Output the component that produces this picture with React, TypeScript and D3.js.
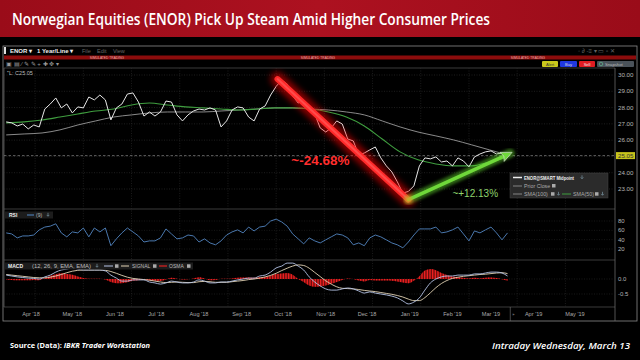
import React from 'react';
import * as d3 from 'd3';

// all series are sampled every STEP days starting at START
const START = new Date(2018, 2, 14);
const STEP = 4;
const SMA_STEP = 13;

const price = [
  27.12, 27.06, 26.87, 26.99, 26.69, 26.93, 26.81, 27.91, 28.22, 28.59,
  27.98, 28.22, 27.67, 28.04, 27.98, 28.65, 28.47, 28.77, 28.47, 27.24,
  27.98, 28.22, 28.83, 28.9, 28.34, 27.48, 27.73, 27.48, 27.73, 28.4,
  28.34, 27.55, 27.18, 27.55, 27.79, 27.91, 27.85, 27.98, 27.85, 26.81,
  27.18, 27.85, 28.04, 27.98, 27.42, 27.18, 27.91, 28.1, 28.77, 29.3,
  29.69, 29.45, 28.71, 28.28, 28.4, 28.1, 27.61, 26.75, 26.5, 26.75,
  27.18, 26.99, 26.07, 25.95, 25.09, 25.21, 25.4, 25.58, 24.91, 24.42,
  24.05, 23.44, 22.75, 22.85, 23.19, 24.42, 24.91, 24.85, 24.97, 24.66,
  24.72, 24.42, 24.91, 24.72, 24.36, 24.97, 25.15, 25.28, 25.34, 25.15,
  25.21, 25.05,
];

const sma50 = [
  27.06, 27.12, 27.24, 27.42, 27.61, 27.79, 27.91, 28.16, 28.28, 28.16,
  28.04, 27.98, 27.91, 27.85, 27.91, 27.98, 27.98, 27.91, 27.73, 27.42,
  26.87, 26.07, 25.28, 24.79, 24.54, 24.42, 24.42, 24.66, 24.97,
];

const sma100 = [
  26.32, 26.38, 26.44, 26.63, 26.93, 27.18, 27.42, 27.55, 27.67, 27.73,
  27.73, 27.73, 27.79, 27.85, 27.91, 27.98, 27.98, 27.91, 27.85, 27.73,
  27.55, 27.18, 26.81, 26.5, 26.26, 26.01, 25.71, 25.4, 25.09,
];

const rsi = [
  54.5, 52.3, 43.8, 48, 48, 50, 61, 67, 69, 74,
  54.5, 46, 56.6, 54.5, 65, 46, 65, 56.6, 65, 27,
  41.7, 54.5, 65, 56.6, 48, 35, 37.4, 37.4, 43.8, 63,
  52.3, 41.7, 43.8, 50, 48, 35, 41.7, 33, 29, 37.4,
  50, 56.6, 61, 54.5, 67, 58.7, 67, 69, 80, 84,
  78, 69, 52.3, 41.7, 31, 43.8, 37.4, 33, 39.6, 46,
  52.3, 50, 43.8, 29, 33, 27, 43.8, 50, 46, 39.6,
  33, 29, 22.5, 35, 50, 63, 63, 63, 67, 54.5,
  56.6, 61, 67, 52.3, 37.4, 58.7, 54.5, 61, 67, 54.5,
  39.6, 54.5,
];

const macd = [
  0.13, 0.1, 0.07, 0.05, 0.03, 0.02, 0.0, 0.07, 0.13, 0.23,
  0.3, 0.33, 0.37, 0.33, 0.3, 0.3, 0.3, 0.3, 0.27, 0.13,
  0.03, -0.07, -0.07, -0.03, -0.03, -0.03, -0.1, -0.13, -0.17, -0.13,
  -0.07, -0.1, -0.13, -0.13, -0.1, -0.03, -0.07, -0.13, -0.13, -0.1,
  -0.1, -0.07, -0.03, 0.0, 0.03, 0.03, 0.1, 0.13, 0.23, 0.37,
  0.43, 0.53, 0.53, 0.43, 0.3, 0.07, -0.1, -0.23, -0.33, -0.37,
  -0.37, -0.33, -0.3, -0.33, -0.4, -0.47, -0.43, -0.47, -0.5, -0.53,
  -0.57, -0.63, -0.73, -0.83, -0.77, -0.63, -0.37, -0.13, 0.0, 0.07,
  0.1, 0.1, 0.13, 0.13, 0.13, 0.17, 0.17, 0.2, 0.23, 0.23,
  0.2, 0.1,
];

const signal = [
  0.15, 0.13, 0.11, 0.09, 0.07, 0.05, 0.04, 0.04, 0.06, 0.1,
  0.15, 0.21, 0.26, 0.29, 0.3, 0.3, 0.3, 0.3, 0.29, 0.25,
  0.19, 0.12, 0.06, 0.02, 0.0, -0.02, -0.04, -0.07, -0.1, -0.12,
  -0.11, -0.1, -0.11, -0.12, -0.12, -0.09, -0.08, -0.09, -0.11, -0.11,
  -0.11, -0.09, -0.07, -0.05, -0.02, 0.0, 0.03, 0.07, 0.12, 0.19,
  0.28, 0.36, 0.43, 0.47, 0.45, 0.36, 0.22, 0.08, -0.06, -0.17,
  -0.26, -0.31, -0.32, -0.33, -0.35, -0.38, -0.4, -0.42, -0.45, -0.48,
  -0.51, -0.55, -0.6, -0.67, -0.72, -0.72, -0.62, -0.46, -0.29, -0.15,
  -0.05, 0.02, 0.06, 0.09, 0.11, 0.13, 0.15, 0.16, 0.18, 0.2,
  0.21, 0.18,
];

const osma = [
  -0.02, -0.03, -0.04, -0.04, -0.04, -0.03, -0.04, 0.03, 0.1, 0.16,
  0.19, 0.17, 0.14, 0.08, 0.03, 0.01, 0.01, 0.01, -0.02, -0.1,
  -0.14, -0.14, -0.11, -0.06, -0.04, -0.02, -0.05, -0.06, -0.07, -0.02,
  0.04, 0.01, -0.02, -0.01, 0.02, 0.06, 0.02, -0.04, -0.03, 0.01,
  0.01, 0.02, 0.04, 0.05, 0.05, 0.04, 0.06, 0.07, 0.11, 0.17,
  0.18, 0.2, 0.14, 0.0, -0.1, -0.22, -0.26, -0.25, -0.22, -0.16,
  -0.1, -0.03, 0.02, 0.0, -0.05, -0.08, -0.03, -0.05, -0.05, -0.05,
  -0.06, -0.08, -0.12, -0.14, -0.06, 0.09, 0.28, 0.33, 0.29, 0.2,
  0.13, 0.08, 0.07, 0.04, 0.02, 0.04, 0.02, 0.04, 0.05, 0.03,
  -0.01, -0.06,
];

const priceGrid = [30, 29, 28, 27, 26, 25, 24, 23];
const priceTicks = [30, 29, 28, 27, 26, 24, 23];
const rsiTicks = [80, 60, 40, 20];
const macdTicks = [0, -0.5];
const lastPrice = 25.05;

// annotation arrows (date, price)
const dropFrom: [Date, number] = [new Date(2018, 8, 27), 29.75];
const dropTo: [Date, number] = [new Date(2018, 11, 31), 22.35];
const riseTo: [Date, number] = [new Date(2019, 2, 15), 25.2];
const dropLabel = { text: '~-24.68%', date: new Date(2018, 9, 7), value: 24.45 };
const riseLabel = { text: '~+12.13%', date: new Date(2019, 1, 1), value: 22.5 };

const FONT = 'Liberation Sans, Arial, sans-serif';

const L = 4;
const R = 615;
const MAIN = { top: 68, bottom: 209 };
const RSIP = { top: 210, bottom: 260 };
const MACDP = { top: 261, bottom: 307 };

const at = (i: number, step: number) => d3.timeDay.offset(START, i * step);

// small "move down" icon used in the TWS legends
const DownIcon = ({ x, y }: { x: number; y: number }) => (
  <path d={`M${x},${y - 2.2} v3 M${x - 1.3},${y - 0.1} L${x},${y + 1.3} L${x + 1.3},${y - 0.1}`}
    fill="none" stroke="#8ab" strokeWidth={0.6} />
);

const App: React.FC = () => {
  const x = d3.scaleTime()
    .domain([new Date(2018, 3, 1), new Date(2019, 4, 1)])
    .range([31, 575]);
  const yP = d3.scaleLinear().domain([23, 30]).range([189, 75]);
  const yR = d3.scaleLinear().domain([20, 80]).range([249, 221]);
  const yM = d3.scaleLinear().domain([-0.5, 0]).range([294, 279]);

  const line = (ys: d3.ScaleLinear<number, number>, step: number, curve = d3.curveLinear) =>
    d3.line<number>()
      .x((_, i) => x(at(i, step)))
      .y(d => ys(d))
      .curve(curve);

  const osmaArea = d3.area<number>()
    .x((_, i) => x(at(i, STEP)))
    .y0(yM(0))
    .y1(d => yM(d))
    .curve(d3.curveMonotoneX);

  const months = d3.timeMonth.range(new Date(2018, 3, 1), new Date(2019, 5, 1));
  const fmt = d3.timeFormat("%b '%y");
  const gridDates = d3.range(-9, 6)
    .map(k => d3.timeDay.offset(new Date(2019, 0, 9), k * 35))
    .filter(d => x(d) > L + 2 && x(d) < R - 2);

  const p0 = [x(dropFrom[0]), yP(dropFrom[1])];
  const p1 = [x(dropTo[0]), yP(dropTo[1])];
  const p2 = [x(riseTo[0]), yP(riseTo[1])];
  const ang = Math.atan2(p2[1] - p1[1], p2[0] - p1[0]) * 180 / Math.PI;

  return (
    <svg width={640} height={360} style={{ position: 'absolute', left: 0, top: 0, display: 'block', background: '#000' }}>
      <defs>
        <linearGradient id="banner" x1="0" x2="1" y1="0" y2="0">
          <stop offset="0" stopColor="#9a0c19" />
          <stop offset="0.5" stopColor="#ad1120" />
          <stop offset="1" stopColor="#9a0c19" />
        </linearGradient>
        <filter id="blur"><feGaussianBlur stdDeviation="3" /></filter>
        <filter id="blurS"><feGaussianBlur stdDeviation="1.5" /></filter>
        <pattern id="hatch" patternUnits="userSpaceOnUse" width="1.6" height="2">
          <rect x="0" y="0" width="0.9" height="2" fill="#ff2323" />
        </pattern>
        <clipPath id="cMain"><rect x={L} y={MAIN.top} width={R - L} height={MAIN.bottom - MAIN.top} /></clipPath>
        <clipPath id="cRsi"><rect x={L} y={RSIP.top} width={R - L} height={RSIP.bottom - RSIP.top} /></clipPath>
        <clipPath id="cMacd"><rect x={L} y={MACDP.top} width={R - L} height={MACDP.bottom - MACDP.top} /></clipPath>
      </defs>

      <rect x={0} y={0} width={640} height={360} fill="#000" />

      {/* title banner */}
      <rect x={0} y={0} width={640} height={37} fill="url(#banner)" />
      <text x={12} y={25} fill="#fff" fontFamily="Open Sans, sans-serif" fontWeight={600} fontSize={16}
        textLength={478} lengthAdjust="spacingAndGlyphs">
        Norwegian Equities (ENOR) Pick Up Steam Amid Higher Consumer Prices
      </text>

      {/* window frame */}
      <rect x={3} y={46} width={634} height={275} fill="#000" stroke="#8a8a8a" strokeWidth={0.8} />
      <rect x={4} y={47} width={2} height={7} fill="#ddd" />
      <text x={10} y={53} fill="#eee" fontFamily={FONT} fontWeight="bold" fontSize={6}>ENOR ▾</text>
      <text x={37} y={53} fill="#eee" fontFamily={FONT} fontWeight="bold" fontSize={6}>1 Year/Line ▾</text>
      <text x={82} y={53} fill="#666" fontFamily={FONT} fontSize={5.5}>File</text>
      <text x={97} y={53} fill="#666" fontFamily={FONT} fontSize={5.5}>Edit</text>
      <text x={113} y={53} fill="#666" fontFamily={FONT} fontSize={5.5}>View</text>
      <text x={578} y={53} fill="#666" fontFamily={FONT} fontSize={6}>◦  ∂  -≡ ▾  ▭ ▫ ✕</text>

      <rect x={4} y={55.5} width={632} height={4} fill="#8c0c0c" />
      {[107, 318, 528].map(cx => (
        <text key={cx} x={cx} y={58.7} textAnchor="middle" fill="#e9b0b0" fontFamily={FONT} fontSize={3.3}>SIMULATED TRADING</text>
      ))}

      <text x={6} y={66} fill="#999" fontFamily={FONT} fontSize={6}>▣ ▤ ⁄ ✎ ✎ + ✚ ✥ ▾</text>
      <rect x={542} y={61} width={16} height={6} rx={1} fill="#c9c81c" />
      <text x={550} y={65.5} textAnchor="middle" fill="#333" fontFamily={FONT} fontSize={4}>Alert</text>
      <rect x={560} y={61} width={17} height={6} rx={1} fill="#1f38e0" />
      <text x={568.5} y={65.5} textAnchor="middle" fill="#ddd" fontFamily={FONT} fontSize={4}>Buy</text>
      <rect x={579} y={61} width={16} height={6} rx={1} fill="#e01c22" />
      <text x={587} y={65.5} textAnchor="middle" fill="#eee" fontFamily={FONT} fontSize={4}>Sell</text>
      <rect x={597} y={61} width={37} height={6} rx={1} fill="#4a525a" />
      <circle cx={601} cy={64} r={1.8} fill="none" stroke="#6c9" strokeWidth={0.6} />
      <text x={605} y={65.5} fill="#bbb" fontFamily={FONT} fontSize={4.2}>Snapshot</text>

      {/* panels */}
      {[MAIN.top, MAIN.bottom, RSIP.bottom, MACDP.bottom].map(y => (
        <line key={y} x1={L} x2={R} y1={y} y2={y} stroke="#555" strokeWidth={0.7} />
      ))}
      <line x1={L} x2={L} y1={MAIN.top} y2={MACDP.bottom} stroke="#666" strokeWidth={0.7} />
      <line x1={R} x2={R} y1={MAIN.top} y2={321} stroke="#777" strokeWidth={0.7} />

      {/* grids */}
      {gridDates.map((d, i) => (
        <line key={i} x1={x(d)} x2={x(d)} y1={MAIN.top} y2={MACDP.bottom} stroke="#2e2e2e" strokeWidth={0.6} strokeDasharray="1,1.5" />
      ))}
      {priceGrid.map(v => (
        <line key={v} x1={L} x2={R} y1={yP(v)} y2={yP(v)} stroke="#333" strokeWidth={0.6} strokeDasharray="1,1.5" />
      ))}
      {rsiTicks.map(v => (
        <line key={v} x1={L} x2={R} y1={yR(v)} y2={yR(v)} stroke="#262626" strokeWidth={0.6} strokeDasharray="1,1.5" />
      ))}
      {macdTicks.map(v => (
        <line key={v} x1={L} x2={R} y1={yM(v)} y2={yM(v)} stroke="#2a2a2a" strokeWidth={0.6} strokeDasharray="1,1.5" />
      ))}

      <text x={7} y={74.5} fill="#bbb" fontFamily={FONT} fontSize={5.5}>⁺L: C25.05</text>

      {/* price panel */}
      <g clipPath="url(#cMain)">
        <line x1={L} x2={R} y1={yP(lastPrice)} y2={yP(lastPrice)} stroke="#888" strokeWidth={0.7} strokeDasharray="2.5,2" />
        <path d={line(yP, SMA_STEP, d3.curveMonotoneX)(sma100) ?? ''} fill="none" stroke="#9a9a9a" strokeWidth={0.9} />
        <path d={line(yP, SMA_STEP, d3.curveMonotoneX)(sma50) ?? ''} fill="none" stroke="#3f9e3f" strokeWidth={1.1} />
        <path d={line(yP, STEP)(price) ?? ''} fill="none" stroke="#e6e6e6" strokeWidth={1} strokeLinejoin="round" />

        {/* drop arrow */}
        <line x1={p0[0]} y1={p0[1]} x2={p1[0]} y2={p1[1]} stroke="#ff0000" strokeWidth={14} strokeLinecap="round" opacity={0.55} filter="url(#blur)" />
        <line x1={p0[0]} y1={p0[1]} x2={p1[0]} y2={p1[1]} stroke="#ff2a2a" strokeWidth={6} strokeLinecap="round" />
        <line x1={p0[0]} y1={p0[1]} x2={p1[0]} y2={p1[1]} stroke="#ff5a5a" strokeWidth={2} strokeLinecap="round" opacity={0.7} />

        {/* rise arrow */}
        <line x1={p1[0]} y1={p1[1]} x2={p2[0]} y2={p2[1]} stroke="#5fd02a" strokeWidth={9} strokeLinecap="round" opacity={0.5} filter="url(#blurS)" />
        <line x1={p1[0]} y1={p1[1]} x2={p2[0] - 4} y2={p2[1] + 2} stroke="#6fd83a" strokeWidth={3.5} strokeLinecap="round" />
        <g transform={`translate(${p2[0]},${p2[1]}) rotate(${ang})`}>
          <polygon points="2,0 -9,-5 -7,0 -9,5" fill="#6fd83a" stroke="#d8d8d8" strokeWidth={0.6} />
        </g>
        <circle cx={p1[0]} cy={p1[1]} r={4} fill="#ff9020" opacity={0.6} filter="url(#blurS)" />
      </g>

      <text x={x(dropLabel.date)} y={yP(dropLabel.value)} fill="#ff2e2e" fontFamily={FONT} fontWeight="bold" fontSize={13.5}>{dropLabel.text}</text>
      <text x={x(riseLabel.date)} y={yP(riseLabel.value)} fill="#8fd46e" fontFamily={FONT} fontSize={10}>{riseLabel.text}</text>

      {/* legend */}
      <rect x={510} y={173} width={98} height={25} fill="#2b2b2b" stroke="#444" strokeWidth={0.5} />
      <line x1={513} x2={522} y1={177.5} y2={177.5} stroke="#eee" strokeWidth={1.5} />
      <text x={524} y={179.5} fill="#eee" fontFamily={FONT} fontWeight="bold" fontSize={5.3} textLength={50} lengthAdjust="spacingAndGlyphs">ENOR@SMART Midpoint</text>
      <DownIcon x={582} y={177.5} />
      <line x1={513} x2={522} y1={186} y2={186} stroke="#aaa" strokeWidth={0.7} />
      <text x={524} y={188} fill="#aaa" fontFamily={FONT} fontSize={5.3}>Prior Close</text>
      <rect x={552} y={184} width={3.5} height={3.5} fill="#aaa" />
      <line x1={513} x2={522} y1={194} y2={194} stroke="#aaa" strokeWidth={0.7} />
      <text x={524} y={196} fill="#aaa" fontFamily={FONT} fontSize={5.3}>SMA(100)</text>
      <rect x={551} y={192.2} width={3.5} height={3.5} fill="#aaa" />
      <DownIcon x={558.5} y={194} />
      <line x1={562} x2={571} y1={194} y2={194} stroke="#3f9e3f" strokeWidth={1} />
      <text x={573} y={196} fill="#aaa" fontFamily={FONT} fontSize={5.3}>SMA(50)</text>
      <rect x={595} y={192.2} width={3.5} height={3.5} fill="#aaa" />
      <DownIcon x={602.5} y={194} />

      {/* price axis */}
      {priceTicks.map(v => (
        <text key={v} x={618} y={yP(v) + 2} fill="#b5b5b5" fontFamily={FONT} fontSize={6.2}>{v.toFixed(2)}</text>
      ))}
      <rect x={616} y={yP(lastPrice) - 3.5} width={19} height={7} fill="#c8c41c" />
      <text x={618} y={yP(lastPrice) + 2} fill="#333" fontFamily={FONT} fontSize={6.2}>{lastPrice.toFixed(2)}</text>

      {/* RSI panel */}
      <g clipPath="url(#cRsi)">
        <path d={line(yR, STEP)(rsi) ?? ''} fill="none" stroke="#4a78ae" strokeWidth={1} strokeLinejoin="round" />
      </g>
      <rect x={5} y={211.5} width={48} height={7} fill="#1c1c1c" />
      <text x={9} y={217} fill="#eee" fontFamily={FONT} fontWeight="bold" fontSize={5}>RSI</text>
      <line x1={27} x2={34} y1={215} y2={215} stroke="#4a78ae" strokeWidth={1.2} />
      <text x={36} y={217} fill="#bbb" fontFamily={FONT} fontSize={5}>(9)</text>
      <DownIcon x={48} y={215} />
      {rsiTicks.map(v => (
        <text key={v} x={618} y={yR(v) + 2} fill="#b5b5b5" fontFamily={FONT} fontSize={6}>{v}</text>
      ))}

      {/* MACD panel */}
      <g clipPath="url(#cMacd)">
        <path d={osmaArea(osma) ?? ''} fill="#6a0808" opacity={0.6} />
        <path d={osmaArea(osma) ?? ''} fill="url(#hatch)" />
        <path d={line(yM, STEP, d3.curveMonotoneX)(signal) ?? ''} fill="none" stroke="#e2d2b4" strokeWidth={0.9} />
        <path d={line(yM, STEP, d3.curveMonotoneX)(macd) ?? ''} fill="none" stroke="#b6c4e6" strokeWidth={0.9} />
      </g>
      <rect x={5} y={262.5} width={188} height={7} fill="#1c1c1c" />
      <text x={8} y={268} fill="#eee" fontFamily={FONT} fontWeight="bold" fontSize={5}>MACD</text>
      <text x={32} y={268} fill="#bbb" fontFamily={FONT} fontSize={5} textLength={59} lengthAdjust="spacingAndGlyphs">(12, 26, 9, EMA, EMA)</text>
      <DownIcon x={97} y={266} />
      <line x1={104} x2={113} y1={266} y2={266} stroke="#b6c4e6" strokeWidth={1} />
      <rect x={115} y={264.3} width={3.5} height={3.5} fill="#aaa" />
      <line x1={121} x2={129} y1={266} y2={266} stroke="#e2d2b4" strokeWidth={1} />
      <text x={132} y={268} fill="#bbb" fontFamily={FONT} fontSize={5}>SIGNAL</text>
      <rect x={153} y={264.3} width={3.5} height={3.5} fill="#aaa" />
      <line x1={159} x2={167} y1={266} y2={266} stroke="#e02020" strokeWidth={1.2} />
      <text x={169} y={268} fill="#bbb" fontFamily={FONT} fontSize={5}>OSMA</text>
      <rect x={187} y={264.3} width={3.5} height={3.5} fill="#aaa" />
      {macdTicks.map(v => (
        <text key={v} x={618} y={yM(v) + 2} fill="#b5b5b5" fontFamily={FONT} fontSize={6}>{v.toFixed(1)}</text>
      ))}

      {/* time axis */}
      {months.map(m => (
        <text key={+m} x={x(m)} y={316} textAnchor="middle" fill="#aaa" fontFamily={FONT} fontSize={5.6}>{fmt(m)}</text>
      ))}
      <line x1={x(new Date(2019, 2, 15))} x2={x(new Date(2019, 2, 15))} y1={MACDP.bottom} y2={321} stroke="#777" strokeWidth={0.6} />
      <text x={x(new Date(2019, 2, 15)) + 2} y={316} fill="#aaa" fontFamily={FONT} fontSize={4}>»</text>

      {/* footer */}
      <text x={10} y={348} fill="#fff" fontFamily="Open Sans, sans-serif" fontWeight={700} fontSize={7.5} textLength={140} lengthAdjust="spacingAndGlyphs">
        Source (Data): <tspan fontStyle="italic">IBKR Trader Workstation</tspan>
      </text>
      <text x={630} y={349} textAnchor="end" fill="#fff" fontFamily="Open Sans, sans-serif" fontWeight={600} fontStyle="italic" fontSize={9.5} textLength={138} lengthAdjust="spacingAndGlyphs">
        Intraday Wednesday,  March 13
      </text>
    </svg>
  );
};

export default App;
